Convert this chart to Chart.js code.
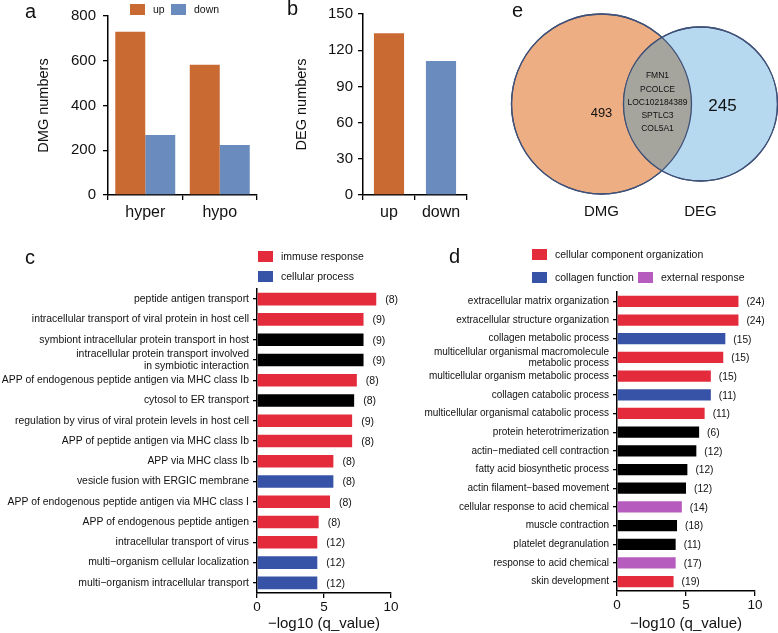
<!DOCTYPE html>
<html>
<head>
<meta charset="utf-8">
<title>DMG / DEG overview</title>
<script src="https://cdn.jsdelivr.net/npm/chart.js@4.4.1/dist/chart.umd.min.js"></script>
<style>
  body { margin: 0; background: #fff; }
  #wrap { position: relative; width: 778px; height: 633px; overflow: hidden;
          font-family: 'Liberation Sans', Arial, sans-serif; color: #111; }
  #wrap canvas { position: absolute; }
  .tag { position: absolute; font-size: 20px; line-height: 20px; }
  .key { position: absolute; font-size: 10.5px; line-height: 12px; white-space: nowrap; }
  .sw { position: absolute; width: 15px; height: 11px; }
</style>
</head>
<body>
<div id="wrap">
  <canvas id="chartA" width="260" height="225" style="left:0;top:0"></canvas>
  <canvas id="chartB" width="215" height="225" style="left:260px;top:0"></canvas>
  <canvas id="chartE" width="338" height="230" style="left:440px;top:0"></canvas>
  <canvas id="chartC" width="405" height="393" style="left:0;top:240px"></canvas>
  <canvas id="chartD" width="373" height="393" style="left:405px;top:240px"></canvas>

  <div class="tag" style="left:25px;top:1px">a</div>
  <div class="tag" style="left:287px;top:-2px">b</div>
  <div class="tag" style="left:512px;top:0">e</div>
  <div class="tag" style="left:25px;top:247px">c</div>
  <div class="tag" style="left:449px;top:246px">d</div>

  <div id="legendA"></div>
  <div id="legendC"></div>
  <div id="legendD"></div>
</div>

<script>
Chart.defaults.font.family = "'Liberation Sans', Arial, sans-serif";
Chart.defaults.color = '#111';
Chart.defaults.animation = false;
Chart.defaults.plugins.legend.display = false;
Chart.defaults.plugins.tooltip.enabled = false;

// ---- data ----
const dmgGroups = ['hyper', 'hypo'];
const dmgUp = [730, 582];
const dmgDown = [268, 223];

const degGroups = ['up', 'down'];
const degCounts = [134, 111];

const vennSets = ['DMG', 'DEG'];
const vennOnly = [493, 245];
const vennShared = ['FMN1', 'PCOLCE', 'LOC102184389', 'SPTLC3', 'COL5A1'];

const goTermsC = [
  'peptide antigen transport',
  'intracellular transport of viral protein in host cell',
  'symbiont intracellular protein transport in host',
  ['intracellular protein transport involved', 'in symbiotic interaction'],
  'APP of endogenous peptide antigen via MHC class Ib',
  'cytosol to ER transport',
  'regulation by virus of viral protein levels in host cell',
  'APP of peptide antigen via MHC class Ib',
  'APP via MHC class Ib',
  'vesicle fusion with ERGIC membrane',
  'APP of endogenous peptide antigen via MHC class I',
  'APP of endogenous peptide antigen',
  'intracellular transport of virus',
  'multi\u2212organism cellular localization',
  'multi\u2212organism intracellular transport'
];
const goValuesC = [8.9, 7.95, 7.95, 7.95, 7.45, 7.25, 7.1, 7.1, 5.7, 5.7, 5.45, 4.6, 4.5, 4.5, 4.5];
const goCountsC = [8, 9, 9, 9, 8, 8, 9, 8, 8, 8, 8, 8, 12, 12, 12];
const goGroupC = ['immune', 'immune', 'other', 'other', 'immune', 'other', 'immune', 'immune',
                  'immune', 'cellular', 'immune', 'immune', 'immune', 'cellular', 'cellular'];

const goTermsD = [
  'extracellular matrix organization',
  'extracellular structure organization',
  'collagen metabolic process',
  ['multicellular organismal macromolecule', 'metabolic process'],
  'multicellular organism metabolic process',
  'collagen catabolic process',
  'multicellular organismal catabolic process',
  'protein heterotrimerization',
  'actin\u2212mediated cell contraction',
  'fatty acid biosynthetic process',
  'actin filament\u2212based movement',
  'cellular response to acid chemical',
  'muscle contraction',
  'platelet degranulation',
  'response to acid chemical',
  'skin development'
];
const goValuesD = [8.8, 8.8, 7.85, 7.7, 6.8, 6.8, 6.35, 5.95, 5.75, 5.1, 5.0, 4.7, 4.35, 4.25, 4.25, 4.1];
const goCountsD = [24, 24, 15, 15, 15, 11, 11, 6, 12, 12, 12, 14, 18, 11, 17, 19];
const goGroupD = ['organization', 'organization', 'collagen', 'organization', 'organization', 'collagen',
                  'organization', 'other', 'other', 'other', 'other', 'external', 'other', 'other',
                  'external', 'organization'];

// ---- colours ----
const ORANGE = '#c96a33';
const STEEL = '#6a8bbd';
const colorsC = { immune: '#e32b3c', cellular: '#3753a7', other: '#000000' };
const namesC = { immune: 'immuse response', cellular: 'cellular process' };
const colorsD = { organization: '#e32b3c', collagen: '#3753a7', external: '#b75cbf', other: '#000000' };
const namesD = { organization: 'cellular component organization', collagen: 'collagen function', external: 'external response' };

const FONT = "'Liberation Sans', Arial, sans-serif";

// draws "(n)" right of every bar
const countLabels = {
  id: 'countLabels',
  afterDatasetsDraw(chart, args, opts) {
    const ctx = chart.ctx;
    ctx.save();
    ctx.font = opts.size + 'px ' + FONT;
    ctx.fillStyle = '#111';
    ctx.textAlign = 'left';
    ctx.textBaseline = 'middle';
    chart.getDatasetMeta(0).data.forEach((bar, i) => {
      ctx.fillText('(' + opts.counts[i] + ')', bar.x + opts.gap, bar.y + 1);
    });
    ctx.restore();
  }
};

// grey lens + labels for the venn panel
const vennOverlap = {
  id: 'vennOverlap',
  afterDatasetsDraw(chart) {
    const ctx = chart.ctx;
    const [a, b] = chart.getDatasetMeta(0).data;
    const ra = a.options.radius, rb = b.options.radius;
    ctx.save();
    ctx.beginPath();
    ctx.arc(a.x, a.y, ra, 0, Math.PI * 2);
    ctx.clip();
    ctx.beginPath();
    ctx.arc(b.x, b.y, rb, 0, Math.PI * 2);
    ctx.fillStyle = '#a5a49d';
    ctx.fill();
    ctx.restore();

    ctx.save();
    ctx.strokeStyle = '#3f5178';
    ctx.lineWidth = 1.3;
    [[a, ra], [b, rb]].forEach(([p, r]) => {
      ctx.beginPath();
      ctx.arc(p.x, p.y, r, 0, Math.PI * 2);
      ctx.stroke();
    });

    ctx.fillStyle = '#111';
    ctx.textAlign = 'center';
    ctx.textBaseline = 'middle';
    ctx.font = '13px ' + FONT;
    ctx.fillText(String(vennOnly[0]), a.x, a.y + 9);
    ctx.font = '17px ' + FONT;
    ctx.fillText(String(vennOnly[1]), b.x + 22, b.y + 2);

    const lensX = ((b.x - rb) + (a.x + ra)) / 2;
    ctx.font = '8.5px ' + FONT;
    vennShared.forEach((g, i) => {
      ctx.fillText(g, lensX, a.y - 28 + i * 13.2);
    });
    ctx.restore();
  }
};

const axisBorder = { display: true, color: '#000', width: 1.5 };
const tickGrid = { display: true, drawOnChartArea: false, color: '#000', lineWidth: 1.3, tickLength: 5 };

/**
 * a: DMG numbers, grouped bars
 */
new Chart(document.getElementById('chartA'), {
  type: 'bar',
  data: {
    labels: dmgGroups,
    datasets: [
      { label: 'up', data: dmgUp, backgroundColor: ORANGE },
      { label: 'down', data: dmgDown, backgroundColor: STEEL }
    ]
  },
  options: {
    responsive: false,
    layout: { autoPadding: false, padding: { top: 11, right: 3, left: 0, bottom: 0 } },
    datasets: { bar: { categoryPercentage: 0.805, barPercentage: 1.0 } },
    scales: {
      x: {
        border: axisBorder,
        grid: { ...tickGrid, offset: true },
        ticks: { font: { size: 16 }, padding: 3 },
        afterFit: s => { s.height = 30; }
      },
      y: {
        min: 0, max: 800,
        border: axisBorder,
        grid: tickGrid,
        ticks: { stepSize: 200, font: { size: 15 }, padding: 7 },
        title: { display: true, text: 'DMG numbers', font: { size: 14.5 }, padding: { top: 35, bottom: 0 } },
        afterFit: s => { s.width = 108; }
      }
    }
  }
});

/**
 * b: DEG numbers
 */
new Chart(document.getElementById('chartB'), {
  type: 'bar',
  data: {
    labels: degGroups,
    datasets: [{ data: degCounts, backgroundColor: [ORANGE, STEEL] }]
  },
  options: {
    responsive: false,
    layout: { autoPadding: false, padding: { top: 11, right: 8, left: 0, bottom: 0 } },
    datasets: { bar: { categoryPercentage: 1.0, barPercentage: 0.58 } },
    scales: {
      x: {
        border: axisBorder,
        grid: { ...tickGrid, offset: true },
        ticks: { font: { size: 16 }, padding: 3 },
        afterFit: s => { s.height = 30; }
      },
      y: {
        min: 0, max: 150,
        border: axisBorder,
        grid: tickGrid,
        ticks: { stepSize: 30, font: { size: 15 }, padding: 5 },
        title: { display: true, text: 'DEG numbers', font: { size: 14.5 }, padding: { top: 33, bottom: 0 } },
        afterFit: s => { s.width = 103; }
      }
    }
  }
});

/**
 * e: venn of DMG and DEG
 */
new Chart(document.getElementById('chartE'), {
  type: 'bubble',
  data: {
    labels: vennSets,
    datasets: [{
      data: vennSets.map(s => ({ x: s, y: 0 })),
      backgroundColor: ['#eeae83', '#b6d9ef'],
      borderColor: '#3f5178',
      borderWidth: 1.3,
      radius: [90, 77],
      hoverRadius: 0,
      clip: false
    }]
  },
  options: {
    responsive: false,
    events: [],
    layout: { autoPadding: false, padding: { top: 20, right: 28, left: 112, bottom: 0 } },
    scales: {
      x: {
        type: 'category',
        labels: vennSets,
        offset: true,
        border: { display: false },
        grid: { display: false, drawTicks: false },
        ticks: { font: { size: 15 }, padding: 15 },
        afterFit: s => { s.height = 42; }
      },
      y: { display: false, min: -1, max: 1 }
    }
  },
  plugins: [vennOverlap]
});

/**
 * c: GO terms (immune / cellular)
 */
new Chart(document.getElementById('chartC'), {
  type: 'bar',
  data: {
    labels: goTermsC,
    datasets: [{
      data: goValuesC,
      backgroundColor: goGroupC.map(g => colorsC[g]),
      categoryPercentage: 1.0,
      barPercentage: 0.62
    }]
  },
  options: {
    indexAxis: 'y',
    responsive: false,
    layout: { autoPadding: false, padding: { top: 49, right: 14, left: 0, bottom: 0 } },
    plugins: { countLabels: { counts: goCountsC, size: 10.5, gap: 9 } },
    scales: {
      x: {
        min: 0, max: 10,
        border: axisBorder,
        grid: tickGrid,
        ticks: { stepSize: 5, font: { size: 13.5 }, padding: 1 },
        title: { display: true, text: '\u2212log10 (q_value)', font: { size: 15 }, padding: 0 },
        afterFit: s => { s.height = 40; }
      },
      y: {
        border: axisBorder,
        grid: { ...tickGrid, offset: false, tickLength: 4 },
        ticks: { autoSkip: false, font: { size: 10.4, lineHeight: 1.1 }, padding: 4 },
        afterFit: s => { s.width = 257; }
      }
    }
  },
  plugins: [countLabels]
});

/**
 * d: GO terms (organization / collagen / external)
 */
new Chart(document.getElementById('chartD'), {
  type: 'bar',
  data: {
    labels: goTermsD,
    datasets: [{
      data: goValuesD,
      backgroundColor: goGroupD.map(g => colorsD[g]),
      categoryPercentage: 1.0,
      barPercentage: 0.6
    }]
  },
  options: {
    indexAxis: 'y',
    responsive: false,
    layout: { autoPadding: false, padding: { top: 52, right: 23, left: 0, bottom: 0 } },
    plugins: { countLabels: { counts: goCountsD, size: 10.2, gap: 8 } },
    scales: {
      x: {
        min: 0, max: 10,
        border: axisBorder,
        grid: tickGrid,
        ticks: { stepSize: 5, font: { size: 13.5 }, padding: 1 },
        title: { display: true, text: '\u2212log10 (q_value)', font: { size: 15 }, padding: 0 },
        afterFit: s => { s.height = 42; }
      },
      y: {
        border: axisBorder,
        grid: { ...tickGrid, offset: false, tickLength: 4 },
        ticks: { autoSkip: false, font: { size: 10, lineHeight: 1.1 }, padding: 4 },
        afterFit: s => { s.width = 212; }
      }
    }
  },
  plugins: [countLabels]
});

// legends, built as plain html boxes
function addKey(parentId, color, text, x, y) {
  const box = document.getElementById(parentId);
  const sw = document.createElement('div');
  sw.className = 'sw';
  sw.style.left = x + 'px';
  sw.style.top = y + 'px';
  sw.style.background = color;
  const label = document.createElement('div');
  label.className = 'key';
  label.style.left = (x + 23) + 'px';
  label.style.top = (y - 1) + 'px';
  label.textContent = text;
  box.appendChild(sw);
  box.appendChild(label);
}

addKey('legendA', ORANGE, 'up', 130, 4);
addKey('legendA', STEEL, 'down', 171, 4);
addKey('legendC', colorsC.immune, namesC.immune, 258, 251);
addKey('legendC', colorsC.cellular, namesC.cellular, 258, 271);
addKey('legendD', colorsD.organization, namesD.organization, 532, 249);
addKey('legendD', colorsD.collagen, namesD.collagen, 532, 272);
addKey('legendD', colorsD.external, namesD.external, 638, 272);
</script>
</body>
</html>
